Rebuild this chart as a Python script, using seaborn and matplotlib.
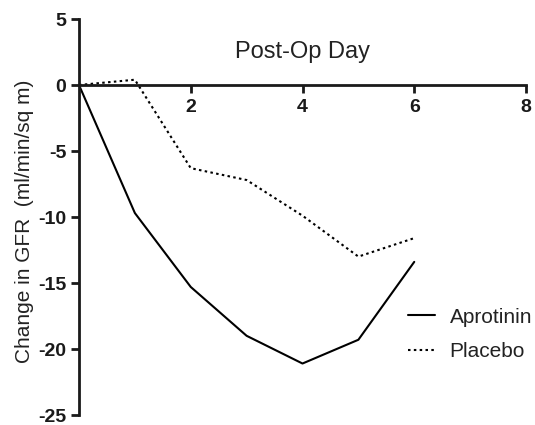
import pandas as pd
import seaborn as sns
import matplotlib.pyplot as plt

days = [0, 1, 2, 3, 4, 5, 6]
aprotinin = [0, -9.7, -15.3, -19.0, -21.1, -19.3, -13.4]
placebo = [0, 0.4, -6.3, -7.2, -9.9, -13.0, -11.6]
groups = ['Aprotinin', 'Placebo']

df = pd.DataFrame({
    'day': days * 2,
    'change': aprotinin + placebo,
    'group': [groups[0]] * len(days) + [groups[1]] * len(days),
})

sns.set_style('white')
plt.rcParams['font.family'] = ['Liberation Sans', 'DejaVu Sans']
plt.rcParams['axes.unicode_minus'] = False
ink = '#1a1a1a'

fig = plt.figure(figsize=(5.35, 4.25), dpi=100)
ax = fig.add_axes([79 / 535, 10 / 425, 447 / 535, 396 / 425])

sns.lineplot(data=df, x='day', y='change', style='group', color='black',
             dashes={'Aprotinin': '', 'Placebo': (1.2, 1.6)},
             linewidth=1.5, ax=ax)

ax.set_xlim(0, 8)
ax.set_ylim(-25, 5)
ax.set_xticks([2, 4, 6, 8])
ax.set_yticks([-25, -20, -15, -10, -5, 0, 5])

ax.spines['top'].set_visible(False)
ax.spines['right'].set_visible(False)
ax.spines['bottom'].set_position(('data', 0))
for s in ('left', 'bottom'):
    ax.spines[s].set_linewidth(2)
    ax.spines[s].set_color(ink)

ax.tick_params(axis='both', direction='out', length=6, width=2, color=ink,
               labelsize=14, labelcolor=ink)
ax.tick_params(axis='x', bottom=True, pad=4)
ax.tick_params(axis='y', left=True, pad=3)
for lab in ax.get_xticklabels() + ax.get_yticklabels():
    lab.set_fontweight('bold')

ax.set_xlabel('Post-Op Day', fontsize=17, color='#222222')
ax.xaxis.set_label_coords(0.5, 0.917)
ax.xaxis.label.set_va('center')
ax.set_ylabel('Change in GFR  (ml/min/sq m)', fontsize=15, color='#222222')
ax.yaxis.set_label_coords(-0.121, 0.489)
ax.yaxis.label.set_va('center')

handles, labels = ax.get_legend_handles_labels()
keep = [(h, l) for h, l in zip(handles, labels) if l in groups]
ax.legend([h for h, _ in keep], [l for _, l in keep], loc='center left',
          bbox_to_anchor=(0.736, 0.2035), frameon=False, fontsize=15,
          handlelength=1.3, handletextpad=0.7, labelspacing=0.75,
          borderpad=0, borderaxespad=0, labelcolor='#222222')

fig.savefig('out.png', dpi=100)
